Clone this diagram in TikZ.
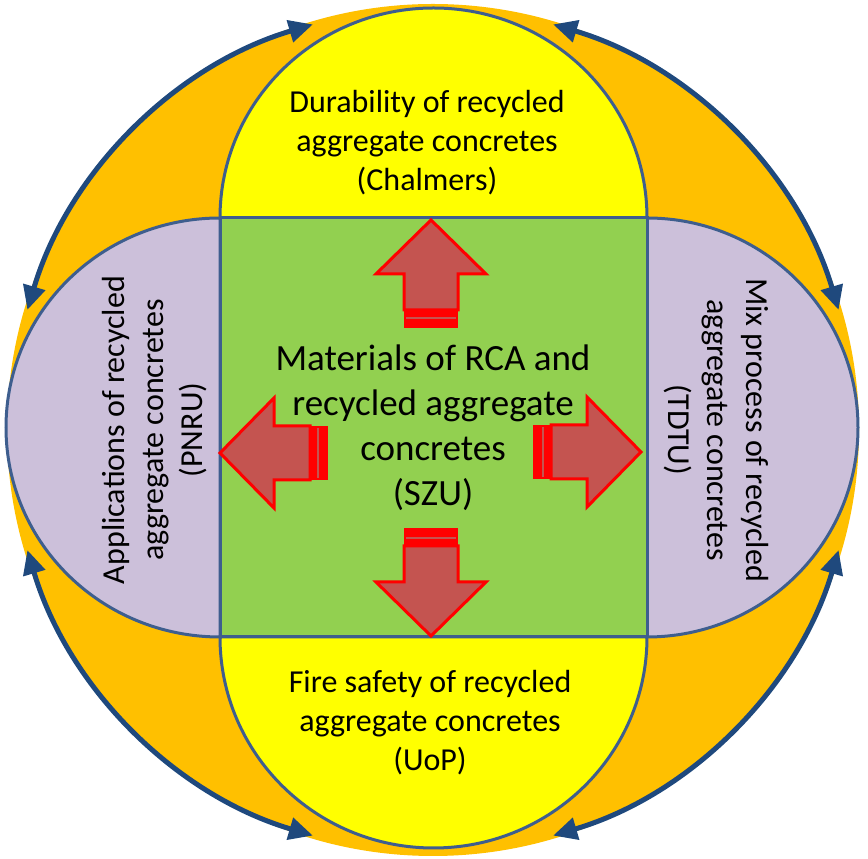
\documentclass[tikz,border=0pt]{standalone}
\usepackage{fontspec}
\setmainfont{Carlito}
\usetikzlibrary{arrows.meta}

\definecolor{ringorange}{RGB}{255,192,0}
\definecolor{capyellow}{RGB}{255,255,0}
\definecolor{sidelilac}{RGB}{204,192,218}
\definecolor{coregreen}{RGB}{146,208,80}
\definecolor{edgeblue}{RGB}{62,94,142}
\definecolor{cycleblue}{RGB}{31,73,125}
\definecolor{arrowfill}{RGB}{196,84,80}

% striped block arrow: tail x, tail y, direction
\newcommand{\stripearrow}[3]{%
  \begin{scope}[shift={(#1,#2)},rotate=#3]
    \fill[red] (0,-27) rectangle (18,27);
    \draw[arrowfill,line width=1.2pt] (10,-25) -- (10,25);
    \filldraw[fill=arrowfill,draw=red,line width=3pt]
      (18,-27) -- (54,-27) -- (54,-55) -- (108,0) -- (54,55) -- (54,27) -- (18,27) -- cycle;
  \end{scope}}

\begin{document}
\begin{tikzpicture}[x=1pt,y=1pt,
  capshape/.style={draw=edgeblue,line width=3pt},
  topictext/.style={font=\fontsize{32}{39}\selectfont,align=center,inner sep=0pt},
  loopline/.style={cycleblue,line width=5pt,
    {Triangle[length=24pt,width=22pt]}-{Triangle[length=24pt,width=22pt]}}]
  \useasboundingbox (0,0) rectangle (868,859);

  % outer ring
  \fill[ringorange] (433,429) circle (426);

  % caps round the core
  \filldraw[capshape,fill=capyellow] (220,641) arc[start angle=180,end angle=0,x radius=213.5,y radius=210] -- cycle;
  \filldraw[capshape,fill=capyellow] (220,222) arc[start angle=180,end angle=360,x radius=213.5,y radius=211] -- cycle;
  \filldraw[capshape,fill=sidelilac] (220,222) arc[start angle=270,end angle=90,x radius=214,y radius=209.5] -- cycle;
  \filldraw[capshape,fill=sidelilac] (647,222) arc[start angle=-90,end angle=90,x radius=211,y radius=209.5] -- cycle;

  % core
  \node[capshape,fill=coregreen,minimum width=427pt,minimum height=419pt,inner sep=0pt] (core) at (433.5,431.5) {};

  \stripearrow{431}{531}{90}
  \stripearrow{431}{331}{-90}
  \stripearrow{533}{407}{0}
  \stripearrow{328}{406}{180}

  \node[topictext,font=\fontsize{37}{45}\selectfont] (szu) at (433,431)
    {Materials of RCA and\\recycled aggregate\\concretes\\(SZU)};
  \node[topictext] (chalmers) at (427,716)
    {Durability of recycled\\aggregate concretes\\(Chalmers)};
  \node[topictext] (uop) at (430,136)
    {Fire safety of recycled\\aggregate concretes\\(UoP)};
  \node[topictext,rotate=90] (pnru) at (155,429)
    {Applications of recycled\\aggregate concretes\\(PNRU)};
  \node[topictext,rotate=-90] (tdtu) at (716,429)
    {Mix process of recycled\\aggregate concretes\\(TDTU)};

  % cycle arrows
  \draw[loopline] (433,429) ++(106.5:423) arc[start angle=106.5,end angle=163.5,radius=423];
  \draw[loopline] (433,429) ++(16.5:423) arc[start angle=16.5,end angle=73.5,radius=423];
  \draw[loopline] (433,429) ++(196.5:423) arc[start angle=196.5,end angle=253.5,radius=423];
  \draw[loopline] (433,429) ++(286.5:423) arc[start angle=286.5,end angle=343.5,radius=423];
\end{tikzpicture}
\end{document}
